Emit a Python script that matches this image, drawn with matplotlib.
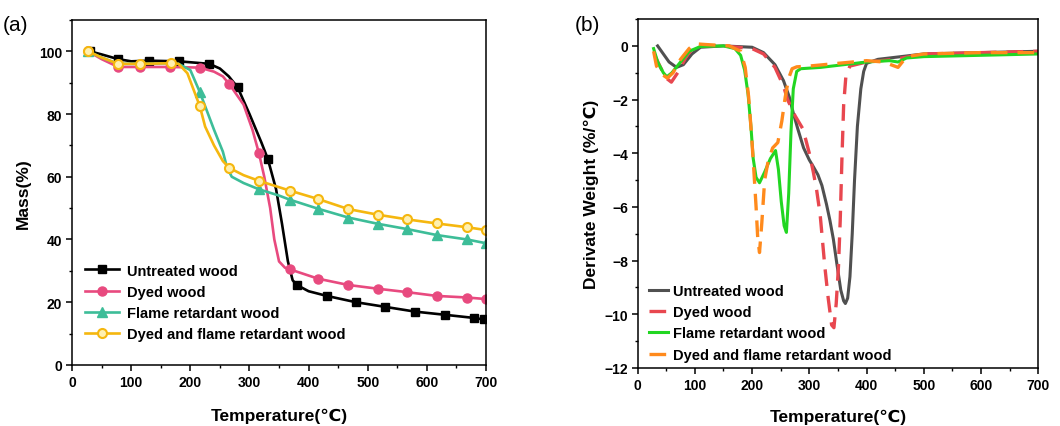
import numpy as np
import matplotlib
matplotlib.use('Agg')
import matplotlib.pyplot as plt
from matplotlib.ticker import MultipleLocator

plt.rcParams['font.family'] = ['Liberation Sans', 'DejaVu Sans']

# ---------------- (a) TG curves ----------------
t_un = [25, 30, 50, 78, 100, 130, 181, 232, 250, 265, 280, 300, 320, 331, 345, 355,
        365, 373, 380, 400, 431, 480, 530, 580, 630, 679, 696, 700]
m_un = [100.5, 100, 99, 97.5, 96.8, 97, 96.8, 96, 94.5, 92, 88.5, 80, 71, 65.7, 56, 45,
        33, 27, 25.5, 23.5, 22, 20, 18.5, 17, 16, 15, 14.5, 14.4]
mk_un = [30, 78, 130, 181, 232, 280, 331, 380, 431, 480, 530, 580, 630, 679, 696]

t_dy = [25, 27, 50, 78, 115, 165, 216, 240, 255, 266, 290, 305, 316, 325, 335, 342,
        350, 360, 368, 416, 467, 517, 567, 617, 668, 700]
m_dy = [100.2, 100, 97.5, 95, 95, 95, 94.8, 93.5, 92, 89.5, 83, 75, 67.5, 60, 50, 40,
        33, 31, 30.5, 27.5, 25.5, 24.3, 23.2, 22, 21.5, 21]
mk_dy = [27, 78, 115, 165, 216, 266, 316, 368, 416, 467, 517, 567, 617, 668, 700]

t_fr = [25, 27, 50, 78, 115, 168, 180, 200, 216, 240, 255, 262, 270, 290, 316, 350,
        368, 416, 467, 517, 567, 617, 668, 700]
m_fr = [100.2, 100, 98, 96, 96, 96.2, 96, 94, 87, 75, 68, 63, 60, 58, 56, 54,
        52.7, 49.8, 47, 45, 43.3, 41.4, 40, 38.8]
mk_fr = [27, 216, 316, 368, 416, 467, 517, 567, 617, 668, 700]

t_dfr = [25, 27, 50, 78, 115, 168, 180, 195, 205, 216, 225, 240, 255, 266, 290, 316,
         368, 416, 467, 517, 567, 617, 668, 700]
m_dfr = [100.2, 100, 98, 96, 96, 96.2, 96, 93, 88, 82.5, 76, 70, 65, 62.8, 60.5, 58.7,
         55.6, 52.9, 49.7, 47.9, 46.4, 45.1, 43.9, 43]
mk_dfr = [27, 78, 115, 168, 216, 266, 316, 368, 416, 467, 517, 567, 617, 668, 700]

labels = ['Untreated wood', 'Dyed wood', 'Flame retardant wood',
          'Dyed and flame retardant wood']

# ---------------- (b) DTG curves ----------------
d_t_un = [35, 45, 55, 68, 80, 95, 110, 150, 200, 220, 240, 255, 265, 272, 280, 290, 300,
          307, 315, 322, 330, 336, 342, 348, 355, 360, 363, 367, 371, 375, 379, 384, 390,
          395, 400, 420, 460, 500, 600, 700]
d_y_un = [0, -0.3, -0.6, -0.8, -0.7, -0.3, -0.05, 0, -0.05, -0.25, -0.7, -1.3, -1.9, -2.5,
          -3.1, -3.8, -4.25, -4.5, -4.8, -5.2, -5.9, -6.5, -7.2, -8.1, -9.1, -9.5, -9.6,
          -9.4, -8.6, -7.0, -5.0, -3.0, -1.6, -0.95, -0.65, -0.5, -0.4, -0.3, -0.25, -0.2]

d_t_dy = [30, 40, 50, 59, 70, 85, 100, 150, 200, 220, 240, 255, 262, 275, 289, 300, 307,
          313, 319, 327, 333, 339, 343, 347, 351, 354, 357, 360, 364, 371, 400, 450,
          500, 600, 700]
d_y_dy = [-0.35, -0.8, -1.2, -1.35, -1.0, -0.4, 0.0, 0.0, -0.1, -0.3, -0.8, -1.5, -2.0,
          -2.6, -3.1, -4.0, -4.7, -5.4, -6.3, -8.2, -9.4, -10.4, -10.5, -9.6, -8.2, -6.5,
          -4.2, -2.2, -1.1, -0.75, -0.6, -0.5, -0.3, -0.25, -0.2]

d_t_fr = [28, 35, 45, 51, 60, 75, 90, 110, 150, 170, 180, 187, 193, 198, 202, 207, 213,
          222, 232, 241, 246, 251, 256, 260, 264, 268, 272, 278, 285, 320, 360, 400,
          440, 455, 470, 500, 600, 700]
d_y_fr = [-0.1, -0.6, -1.0, -1.15, -1.0, -0.6, -0.2, -0.02, 0, -0.1, -0.35, -0.9, -1.8,
          -3.0, -4.2, -4.9, -5.1, -4.7, -4.2, -3.9, -4.6, -5.8, -6.7, -6.95, -5.5, -3.2,
          -1.6, -0.95, -0.85, -0.8, -0.7, -0.6, -0.55, -0.6, -0.45, -0.4, -0.35, -0.3]

d_t_dfr = [28, 33, 42, 52, 62, 75, 90, 100, 120, 160, 180, 188, 194, 199, 203, 207, 210,
           213, 217, 222, 228, 236, 245, 252, 258, 264, 270, 278, 300, 350, 400, 430,
           455, 470, 500, 600, 700]
d_y_dfr = [-0.2, -0.75, -1.05, -1.2, -1.0, -0.5, -0.1, 0.08, 0.05, 0, -0.2, -0.8, -1.9,
           -3.3, -4.6, -6.0, -7.2, -7.7, -6.6, -5.0, -4.3, -3.8, -3.6, -2.8, -1.9, -1.2,
           -0.85, -0.78, -0.75, -0.65, -0.55, -0.6, -0.8, -0.4, -0.3, -0.25, -0.25]

fig = plt.figure(figsize=(10.6, 4.27), dpi=100)
ax1 = fig.add_axes([0.068, 0.143, 0.3905, 0.808])
ax2 = fig.add_axes([0.6015, 0.136, 0.3780, 0.817])

def idx(t, mk):
    return [t.index(v) for v in mk]

lw_a = 1.9
ax1.plot(t_un, m_un, color='black', lw=lw_a, marker='s', ms=6,
         markevery=idx(t_un, mk_un), label=labels[0])
ax1.plot(t_dy, m_dy, color='#E84A7F', lw=lw_a, marker='o', ms=6.5,
         markevery=idx(t_dy, mk_dy), label=labels[1])
ax1.plot(t_fr, m_fr, color='#3DBD98', lw=lw_a, marker='^', ms=6.5,
         markevery=idx(t_fr, mk_fr), label=labels[2])
ax1.plot(t_dfr, m_dfr, color='#F5B70F', lw=lw_a, marker='o', ms=6.5,
         markerfacecolor='#FFF0B0', markeredgecolor='#F5B70F', markeredgewidth=1.5,
         markevery=idx(t_dfr, mk_dfr), label=labels[3])

ax1.set_xlim(0, 700)
ax1.set_ylim(0, 110)
ax1.xaxis.set_major_locator(MultipleLocator(100))
ax1.xaxis.set_minor_locator(MultipleLocator(50))
ax1.yaxis.set_major_locator(MultipleLocator(20))
ax1.yaxis.set_minor_locator(MultipleLocator(10))
ax1.set_yticks([0, 20, 40, 60, 80, 100])
ax1.set_xlabel('Temperature(℃)', fontsize=12.5, fontweight='bold', labelpad=14)
ax1.set_ylabel('Mass(%)', fontsize=12.5, fontweight='bold', labelpad=6)
ax1.legend(loc='lower left', bbox_to_anchor=(0.0, 0.03), frameon=False,
           prop={'weight': 'bold', 'size': 10.5}, handlelength=2.3, handletextpad=0.6,
           labelspacing=0.5)

ax2.plot(d_t_un, d_y_un, color='#505050', lw=2.2, label=labels[0])
ax2.plot(d_t_dy, d_y_dy, color='#E8474F', lw=2.4, ls=(0, (5, 3)), label=labels[1])
ax2.plot(d_t_fr, d_y_fr, color='#22D622', lw=2.2, label=labels[2])
ax2.plot(d_t_dfr, d_y_dfr, color='#FF8A1C', lw=2.4, ls=(0, (5, 3)), label=labels[3])

ax2.set_xlim(0, 700)
ax2.set_ylim(-12, 1)
ax2.xaxis.set_major_locator(MultipleLocator(100))
ax2.xaxis.set_minor_locator(MultipleLocator(50))
ax2.yaxis.set_major_locator(MultipleLocator(2))
ax2.yaxis.set_minor_locator(MultipleLocator(1))
ax2.set_yticks([0, -2, -4, -6, -8, -10, -12])
ax2.set_xlabel('Temperature(℃)', fontsize=12.5, fontweight='bold', labelpad=12)
ax2.set_ylabel('Derivate Weight (%/℃)', fontsize=12.5, fontweight='bold', labelpad=4)
ax2.legend(loc='lower left', bbox_to_anchor=(-0.005, -0.02), frameon=False,
           prop={'weight': 'bold', 'size': 10.5}, handlelength=1.3, handletextpad=0.35,
           labelspacing=0.5)

for ax in (ax1, ax2):
    ax.tick_params(which='major', direction='out', length=4, width=1.1,
                   labelsize=10, pad=3)
    ax.tick_params(which='minor', direction='out', length=2.5, width=1.0)
    for lab in ax.get_xticklabels() + ax.get_yticklabels():
        lab.set_fontweight('bold')
    for sp in ax.spines.values():
        sp.set_linewidth(1.1)

fig.text(0.003, 0.94, '(a)', fontsize=15, va='center', ha='left')
fig.text(0.542, 0.94, '(b)', fontsize=15, va='center', ha='left')

fig.savefig('out.png', dpi=100)
